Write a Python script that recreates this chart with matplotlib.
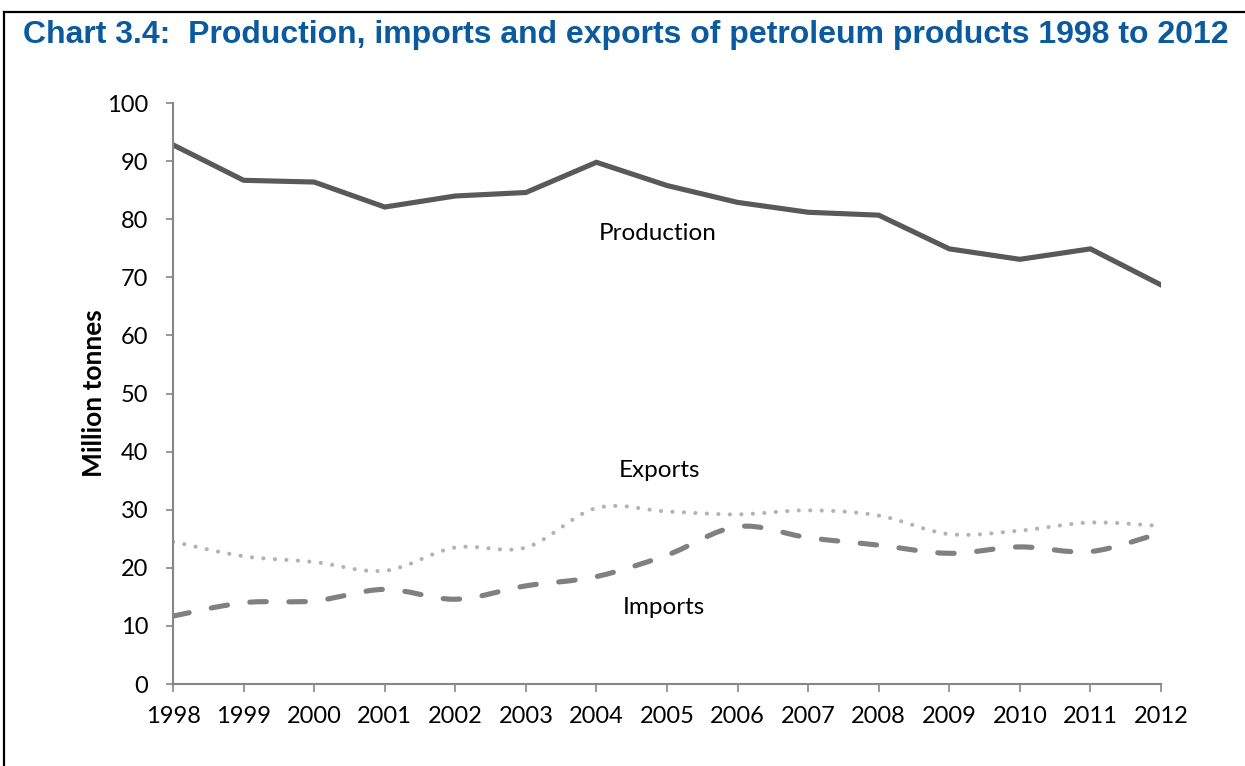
import numpy as np
import matplotlib.pyplot as plt
from matplotlib.path import Path
from matplotlib.patches import PathPatch
from matplotlib.lines import Line2D

# Data (million tonnes)
years = list(range(1998, 2013))
production = [92.8, 86.7, 86.4, 82.1, 84.0, 84.6, 89.8, 85.8, 82.9, 81.2, 80.7, 74.9, 73.1, 74.9, 68.7]
exports = [24.5, 22.0, 21.0, 19.5, 23.5, 23.5, 30.3, 29.7, 29.2, 29.9, 29.0, 25.8, 26.4, 27.8, 27.2]
imports = [11.7, 14.0, 14.3, 16.3, 14.6, 16.9, 18.5, 22.2, 27.1, 25.2, 23.9, 22.5, 23.6, 22.8, 26.0]

title = "Chart 3.4:  Production, imports and exports of petroleum products 1998 to 2012"
ylabel = "Million tonnes"


def smooth_path(xs, ys):
    # Excel-like smoothed line: Catmull-Rom segments as cubic Bezier curves
    xs = np.asarray(xs, float)
    ys = np.asarray(ys, float)
    verts = [(xs[0], ys[0])]
    codes = [Path.MOVETO]
    n = len(xs)
    for i in range(n - 1):
        x0, y0 = (xs[i - 1], ys[i - 1]) if i > 0 else (xs[i], ys[i])
        x1, y1 = xs[i], ys[i]
        x2, y2 = xs[i + 1], ys[i + 1]
        x3, y3 = (xs[i + 2], ys[i + 2]) if i + 2 < n else (x2, y2)
        t = 1 / 6
        verts += [(x1 + (x2 - x0) * t, y1 + (y2 - y0) * t),
                  (x2 - (x3 - x1) * t, y2 - (y3 - y1) * t),
                  (x2, y2)]
        codes += [Path.CURVE4] * 3
    return Path(verts, codes)


fig = plt.figure(figsize=(12.45, 7.66), dpi=100)
ax = fig.add_axes([0.139, 0.107, 0.7935, 0.7585])

ax.plot(years, production, color='#595959', linewidth=3.7, solid_joinstyle='miter')

imp = PathPatch(smooth_path(years, imports), facecolor='none', edgecolor='#808080',
                linewidth=3.7, linestyle=(0, (3.2, 4.4)), capstyle='round')
ax.add_patch(imp)
exp = PathPatch(smooth_path(years, exports), facecolor='none', edgecolor='#b3b3b3',
                linewidth=3.0, linestyle=(0, (0.01, 2.75)), capstyle='round')
ax.add_patch(exp)

ax.set_xlim(1998, 2012)
ax.set_ylim(0, 100)
ax.set_xticks(years)
ax.set_yticks(range(0, 101, 10))

tick_font = 'Lato'
for lab in ax.get_xticklabels() + ax.get_yticklabels():
    lab.set_fontfamily(tick_font)
    lab.set_fontsize(17)

for side in ['top', 'right']:
    ax.spines[side].set_visible(False)
for side in ['left', 'bottom']:
    ax.spines[side].set_color('#868686')
    ax.spines[side].set_linewidth(1.5)
ax.tick_params(axis='x', direction='out', length=6, width=1.2, color='#868686', pad=10)
ax.tick_params(axis='y', direction='out', length=5, width=1.2, color='#868686', pad=13)

ax.set_ylabel(ylabel, fontfamily=tick_font, fontweight='bold', fontsize=19, labelpad=0.5)

ax.text(2004.87, 77.6, 'Production', ha='center', va='center', fontfamily=tick_font, fontsize=17.5)
ax.text(2004.9, 36.8, 'Exports', ha='center', va='center', fontfamily=tick_font, fontsize=17.5)
ax.text(2004.96, 13.25, 'Imports', ha='center', va='center', fontfamily=tick_font, fontsize=17.5)

fig.text(0.0185, 0.954, title, ha='left', va='center', fontfamily='Liberation Sans',
         fontweight='bold', fontsize=23, color='#0b5a9e')

# frame lines at the top and left of the figure
fig.add_artist(Line2D([0.003, 1.0], [0.984, 0.984], transform=fig.transFigure, color='black', linewidth=1.6))
fig.add_artist(Line2D([0.0035, 0.0035], [0.0, 0.984], transform=fig.transFigure, color='black', linewidth=1.6))

fig.savefig('out.png', dpi=100)
